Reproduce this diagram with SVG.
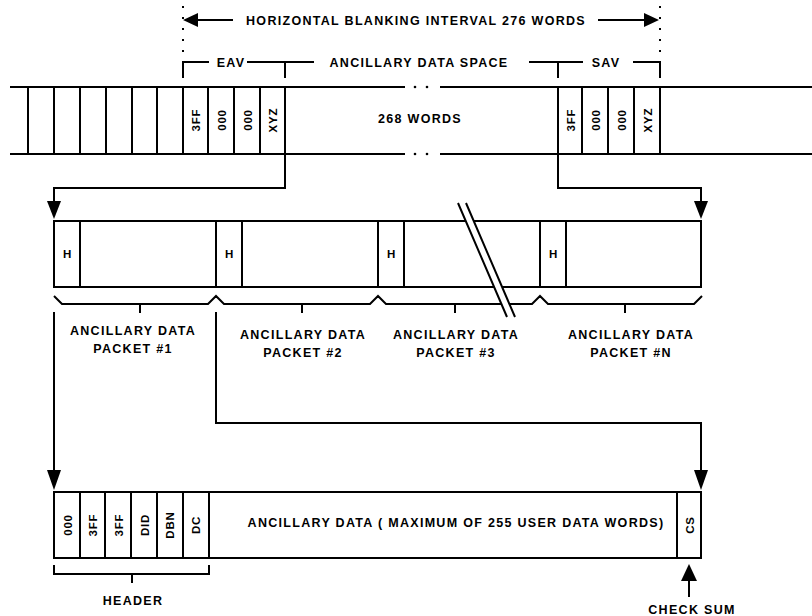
<svg xmlns="http://www.w3.org/2000/svg" width="812" height="616" viewBox="0 0 812 616">
<style>
.ln{fill:none;stroke:#000;stroke-width:2;stroke-linecap:butt}
.dot{fill:none;stroke:#000;stroke-width:2;stroke-dasharray:2 9}
.box{fill:#fff;stroke:#000;stroke-width:2}
.t{font-family:"Liberation Sans",Arial,Helvetica,sans-serif;font-weight:bold;font-size:12.5px;letter-spacing:1.3px;fill:#000;text-anchor:middle}
.r{font-family:"Liberation Sans",Arial,Helvetica,sans-serif;font-weight:bold;font-size:11.5px;letter-spacing:0.8px;fill:#000;text-anchor:middle}
.ah{fill:#000;stroke:none}
</style>
<rect width="812" height="616" fill="#fff"/>

<g id="interval">
  <line class="dot" x1="183" y1="6" x2="183" y2="60"/>
  <line class="dot" x1="660" y1="6" x2="660" y2="60"/>
  <line class="ln" x1="196" y1="20" x2="233" y2="20"/>
  <polygon class="ah" points="183,20 198,13 198,27"/>
  <line class="ln" x1="598" y1="20" x2="646" y2="20"/>
  <polygon class="ah" points="659,20 644,13 644,27"/>
  <text class="t" x="416" y="24.5">HORIZONTAL BLANKING INTERVAL 276 WORDS</text>
</g>

<g id="brackets">
  <path class="ln" d="M183,78 V62 H209 M247,62 H285 M285,78 V62 H314"/>
  <text class="t" x="231" y="66.5">EAV</text>
  <text class="t" x="419" y="66.5">ANCILLARY DATA SPACE</text>
  <path class="ln" d="M529,62 H583 M558,78 V62 M633,62 H660 V78"/>
  <text class="t" x="606" y="66.5">SAV</text>
</g>

<g id="stream">
  <path class="ln" d="M10,87 H405 M440,87 H812 M10,154 H405 M440,154 H812"/>
  <g fill="#000">
    <circle cx="415" cy="87" r="1.3"/><circle cx="427" cy="87" r="1.3"/>
    <circle cx="415" cy="154" r="1.3"/><circle cx="427" cy="154" r="1.3"/>
  </g>
  <path class="ln" d="M28,87 V154 M54,87 V154 M80,87 V154 M106,87 V154 M132,87 V154 M157,87 V154 M183,87 V154 M208,87 V154 M234,87 V154 M260,87 V154 M285,87 V154 M558,87 V154 M582,87 V154 M608,87 V154 M634,87 V154 M660,87 V154"/>
  <text class="r" transform="translate(200,120) rotate(-90)">3FF</text>
  <text class="r" transform="translate(225.5,120) rotate(-90)">000</text>
  <text class="r" transform="translate(251.5,120) rotate(-90)">000</text>
  <text class="r" transform="translate(277,120) rotate(-90)">XYZ</text>
  <text class="t" x="420" y="122.5">268 WORDS</text>
  <text class="r" transform="translate(574.5,120) rotate(-90)">3FF</text>
  <text class="r" transform="translate(599.5,120) rotate(-90)">000</text>
  <text class="r" transform="translate(625.5,120) rotate(-90)">000</text>
  <text class="r" transform="translate(651.5,120) rotate(-90)">XYZ</text>
</g>

<g id="packets">
  <rect class="box" x="54" y="221" width="647" height="66"/>
  <path class="ln" d="M80,221 V287 M216,221 V287 M242,221 V287 M378,221 V287 M404,221 V287 M540,221 V287 M566,221 V287"/>
  <text class="r" x="67.5" y="258">H</text>
  <text class="r" x="229.5" y="258">H</text>
  <text class="r" x="391.5" y="258">H</text>
  <text class="r" x="553.5" y="258">H</text>
  <path class="ln" d="M54,296 L62,304 H208 L216,296 L224,304 H370 L378,296 L386,304 H532 L540,296 L548,304 H694 L702,296"/>
  <path class="ln" d="M140,304 V313 M302,304 V313 M455,304 V313 M625,304 V313"/>
  <polygon points="458,203 466,203 515,317 507,317" fill="#fff"/>
  <path class="ln" d="M458,203 L507,317 M466,203 L515,317"/>
  <text class="t" x="133" y="334.5">ANCILLARY DATA</text>
  <text class="t" x="133" y="352.5">PACKET #1</text>
  <text class="t" x="303" y="338.5">ANCILLARY DATA</text>
  <text class="t" x="303" y="356.5">PACKET #2</text>
  <text class="t" x="456" y="338.5">ANCILLARY DATA</text>
  <text class="t" x="456" y="356.5">PACKET #3</text>
  <text class="t" x="631" y="338.5">ANCILLARY DATA</text>
  <text class="t" x="631" y="356.5">PACKET #N</text>
</g>

<g id="packet-detail">
  <rect class="box" x="54" y="492" width="647" height="66"/>
  <path class="ln" d="M80,492 V558 M105,492 V558 M131,492 V558 M157,492 V558 M183,492 V558 M209,492 V558 M677,492 V558"/>
  <text class="r" transform="translate(71.5,525) rotate(-90)">000</text>
  <text class="r" transform="translate(97,525) rotate(-90)">3FF</text>
  <text class="r" transform="translate(122.5,525) rotate(-90)">3FF</text>
  <text class="r" transform="translate(148.5,525) rotate(-90)">DID</text>
  <text class="r" transform="translate(174,525) rotate(-90)">DBN</text>
  <text class="r" transform="translate(200,525) rotate(-90)">DC</text>
  <text class="r" transform="translate(693.5,525) rotate(-90)">CS</text>
  <text class="t" x="456" y="526.5">ANCILLARY DATA ( MAXIMUM OF 255 USER DATA WORDS)</text>
  <path class="ln" d="M54,565 V574 H209 V565 M132,574 V583"/>
  <text class="t" x="133" y="604.5">HEADER</text>
  <line class="ln" x1="689" y1="578" x2="689" y2="597"/>
  <polygon class="ah" points="689,564 681,581 697,581"/>
  <text class="t" x="692" y="613.5">CHECK SUM</text>
</g>

<g id="connectors">
  <path class="ln" d="M285,154 V188 H54 V205"/>
  <polygon class="ah" points="54,219 47,201 61,201"/>
  <path class="ln" d="M558,154 V188 H701 V205"/>
  <polygon class="ah" points="701,219 694,201 708,201"/>
  <path class="ln" d="M54,312 V475"/>
  <polygon class="ah" points="54,490 47,470 61,470"/>
  <path class="ln" d="M216,312 V423 H701 V475"/>
  <polygon class="ah" points="701,490 694,470 708,470"/>
</g>
</svg>
